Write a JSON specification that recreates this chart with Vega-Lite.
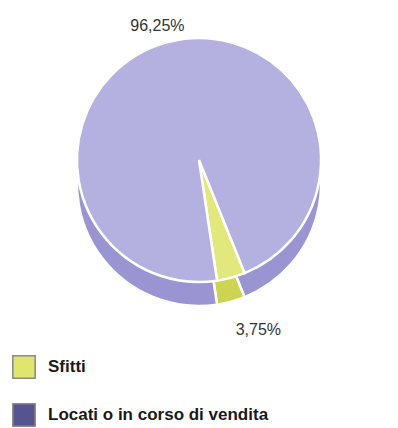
{
  "$schema": "https://vega.github.io/schema/vega-lite/v6.json",
  "width": 398,
  "height": 320,
  "autosize": {"type": "none"},
  "padding": {"left": 0, "top": 0, "right": 0, "bottom": 108},
  "background": "white",
  "data": {"values": [
    {"cat": "Sfitti", "pct": 3.75, "label": "3,75%", "idx": 2},
    {"cat": "Locati o in corso di vendita", "pct": 96.25, "label": "96,25%", "idx": 1}
  ]},
  "encoding": {
    "theta": {"field": "pct", "type": "quantitative", "stack": true, "scale": {"range": [-3.290, 2.993]}},
    "order": {"field": "idx", "type": "quantitative", "sort": "ascending"}
  },
  "layer": [
    {
      "mark": {"type": "arc", "outerRadius": 122, "yOffset": 24, "stroke": "white", "strokeWidth": 2.5},
      "encoding": {
        "fill": {"condition": {"test": "datum.cat === 'Sfitti'", "value": "#cdd454"}, "value": "#9a95d2"}
      }
    },
    {
      "mark": {"type": "arc", "outerRadius": 122, "stroke": "white", "strokeWidth": 2.5},
      "encoding": {
        "fill": {"condition": {"test": "datum.cat === 'Sfitti'", "value": "#e2e87c"}, "value": "#b4b0e0"}
      }
    },
    {
      "mark": {"type": "arc", "outerRadius": 0, "innerRadius": 0},
      "encoding": {
        "color": {
          "field": "cat", "type": "nominal",
          "scale": {"domain": ["Sfitti", "Locati o in corso di vendita"], "range": ["#dfe56f", "#55548f"]},
          "legend": {
            "title": null, "orient": "none", "legendX": 12, "legendY": 355,
            "direction": "vertical",
            "symbolType": "square", "symbolSize": 500, "symbolStrokeWidth": 1.5, "symbolStrokeColor": "#8a8a8a",
            "symbolOpacity": 1,
            "labelFont": "Liberation Sans", "labelFontSize": 17, "labelFontWeight": "bold", "labelColor": "#1a1a1a",
            "labelOffset": 12, "rowPadding": 18, "labelLimit": 0
          }
        }
      }
    },
    {
      "mark": {"type": "text", "radius": 139, "dx": -5, "font": "Liberation Sans", "fontSize": 16, "fill": "#333333"},
      "encoding": {
        "text": {"condition": {"test": "datum.cat !== 'Sfitti'", "field": "label"}, "value": ""}
      }
    },
    {
      "mark": {"type": "text", "radius": 180, "dx": 12, "dy": -4, "font": "Liberation Sans", "fontSize": 16, "fill": "#333333"},
      "encoding": {
        "text": {"condition": {"test": "datum.cat === 'Sfitti'", "field": "label"}, "value": ""}
      }
    }
  ],
  "config": {"view": {"stroke": null}}
}
